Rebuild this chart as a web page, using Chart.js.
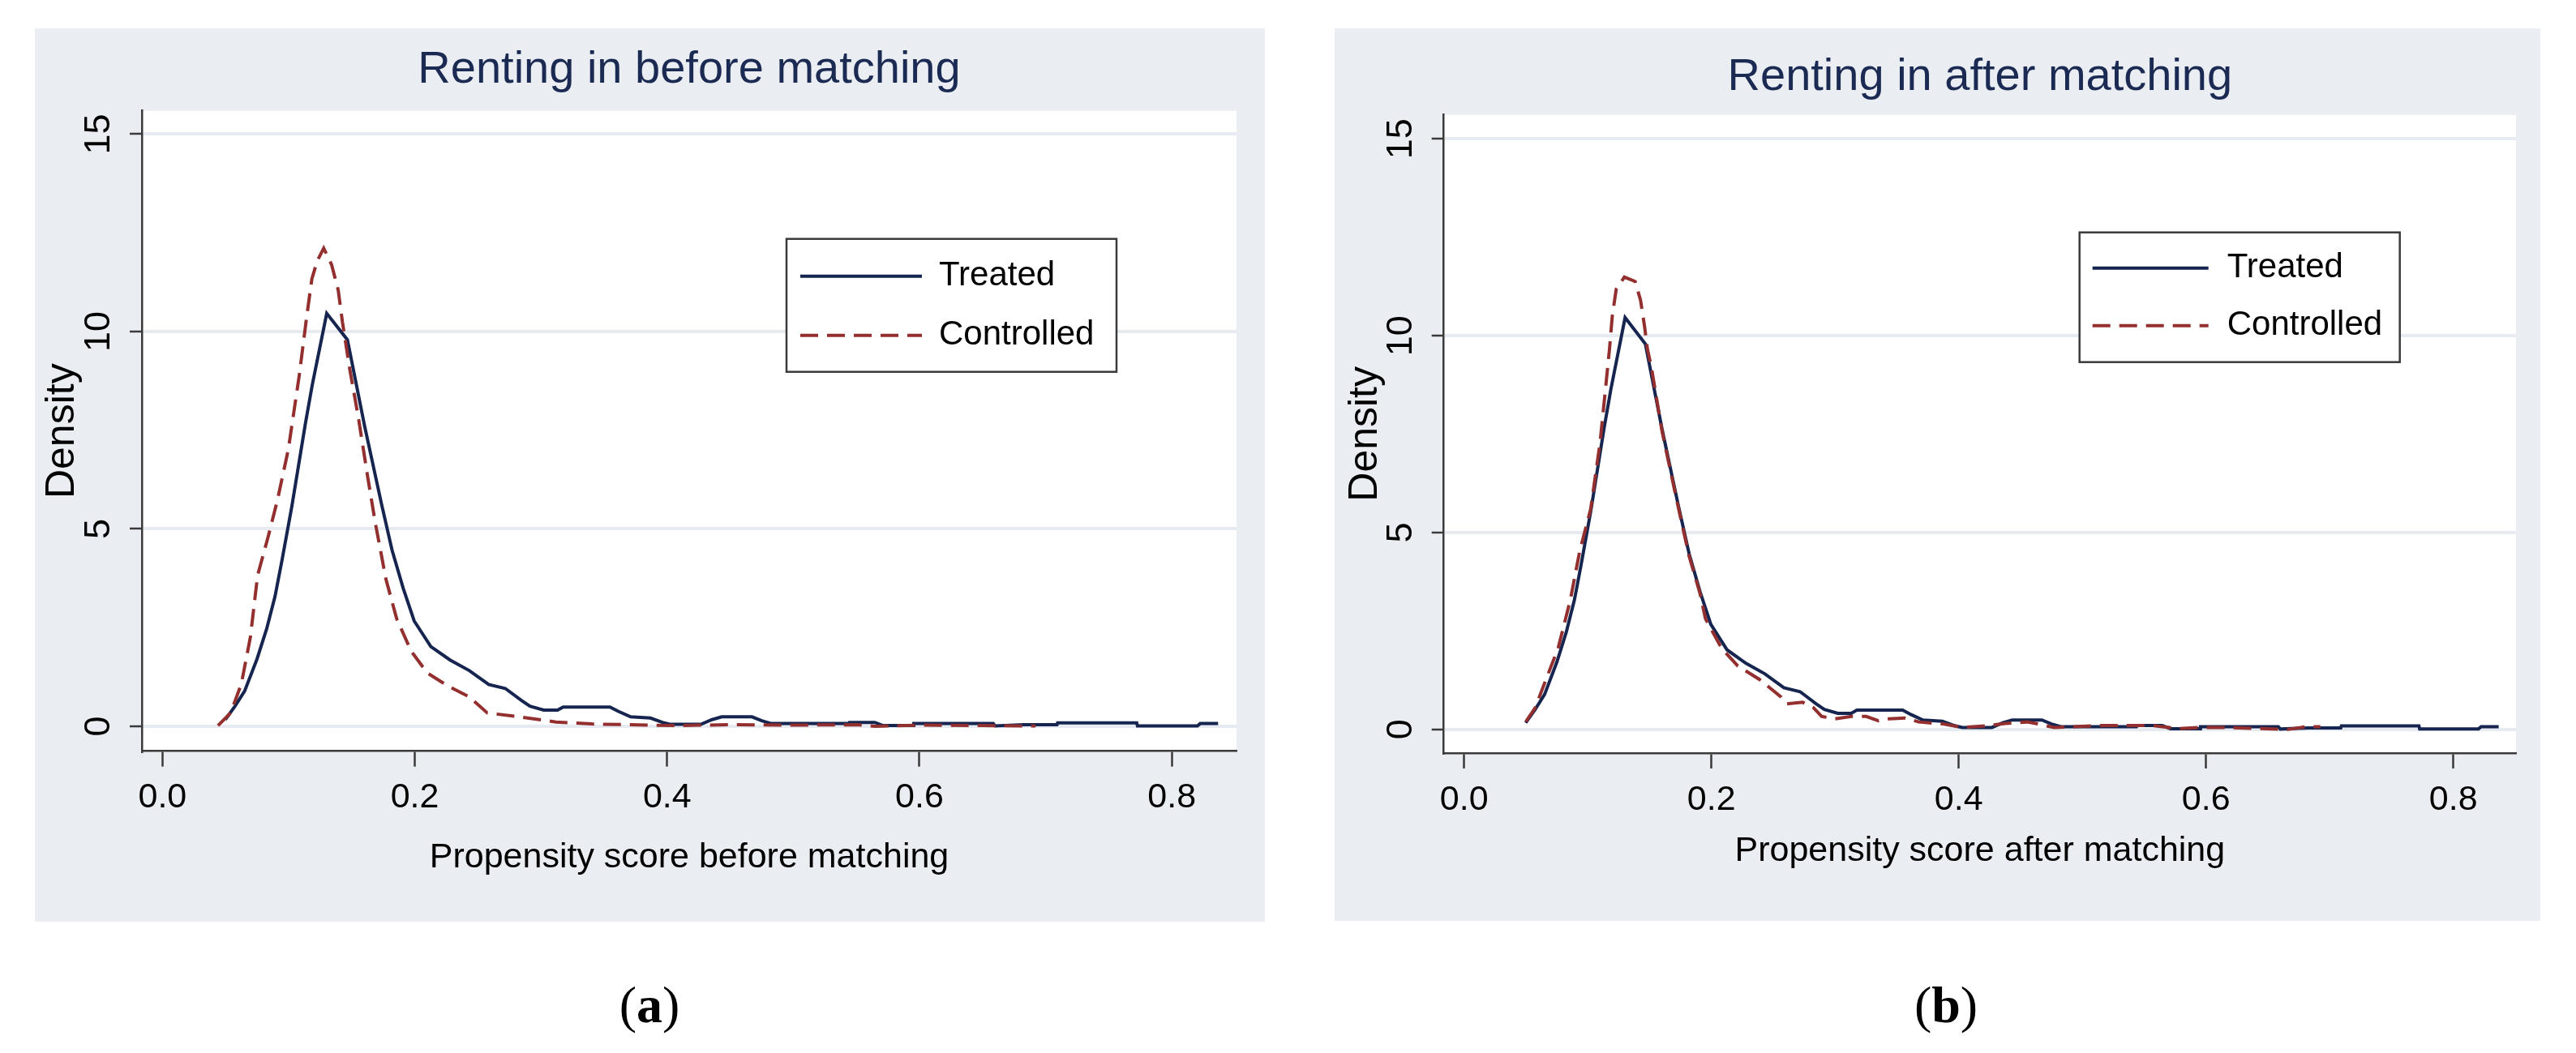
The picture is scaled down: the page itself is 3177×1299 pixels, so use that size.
<!DOCTYPE html>
<html><head><meta charset="utf-8">
<script src="https://cdn.jsdelivr.net/npm/chart.js@4.4.1/dist/chart.umd.min.js"></script>
<style>
html,body{margin:0;padding:0;background:#fff;width:3177px;height:1299px;overflow:hidden;}
canvas{position:absolute;}
#c1{left:43px;top:35px;}
#c2{left:1646px;top:35px;}
.cap{position:absolute;font-family:'Liberation Serif','Times New Roman',serif;font-size:64px;color:#000;transform:translate(-50%,-50%);white-space:nowrap;}
</style></head><body>
<canvas id="c1" width="1517" height="1102"></canvas>
<canvas id="c2" width="1487" height="1101"></canvas>
<div class="cap" style="left:801px;top:1240px">(<b>a</b>)</div>
<div class="cap" style="left:2400px;top:1240px">(<b>b</b>)</div>
<script>
// ---------------- DATA ----------------
const seriesLabels = ['Treated', 'Controlled'];
const panelTitles = ['Renting in before matching', 'Renting in after matching'];
const xAxisTitles = ['Propensity score before matching', 'Propensity score after matching'];
const yAxisTitle = 'Density';
const xTickValues = [0, 0.2, 0.4, 0.6, 0.8];
const xTickLabels = ['0.0', '0.2', '0.4', '0.6', '0.8'];
const yTickValues = [0, 5, 10, 15];
const yTickLabels = ['0', '5', '10', '15'];

// Treated group (same sample in both panels)
const treatedScore = [0.0498,0.0575,0.0651,0.075,0.0826,0.0892,0.0946,0.1025,0.1132,0.1187,0.1302,0.1466,0.1602,0.1735,0.182,0.1908,0.1995,0.2127,0.228,0.2433,0.2586,0.2717,0.2848,0.2913,0.3022,0.3131,0.3176,0.3547,0.3613,0.3711,0.3868,0.3963,0.4028,0.4268,0.4356,0.4433,0.4673,0.475,0.4826,0.5438,0.5445,0.5646,0.5711,0.5952,0.5955,0.6585,0.66,0.6826,0.709,0.7095,0.7722,0.7728,0.8203,0.8225,0.8367];
const treatedDensity = [0.17,0.51,0.89,1.71,2.47,3.29,4.18,5.56,7.65,8.64,10.46,9.79,7.61,5.65,4.46,3.50,2.67,2.02,1.68,1.41,1.06,0.96,0.65,0.51,0.41,0.41,0.49,0.49,0.38,0.24,0.21,0.10,0.05,0.05,0.17,0.24,0.24,0.14,0.07,0.07,0.10,0.10,0.02,0.02,0.07,0.07,0.01,0.04,0.04,0.09,0.09,0.01,0.01,0.07,0.07];

// Controlled group before matching
const controlledBeforeScore = [0.044,0.054,0.0625,0.0697,0.0754,0.084,0.0912,0.0998,0.1083,0.1141,0.1184,0.1227,0.1278,0.1341,0.1393,0.1427,0.1485,0.1556,0.1628,0.1685,0.1771,0.1857,0.1972,0.210,0.2259,0.243,0.2574,0.2803,0.3119,0.3405,0.37,0.4064,0.45,0.50,0.55,0.565,0.60,0.65,0.692];
const controlledBeforeDensity = [0.02,0.34,1.07,2.26,3.82,4.83,5.74,7.02,8.86,10.32,11.33,11.79,12.11,11.69,11.05,10.23,9.04,7.76,6.29,5.19,3.73,2.72,1.90,1.35,1.03,0.75,0.34,0.25,0.11,0.06,0.04,0.02,0.04,0.03,0.04,0.0,0.03,0.02,0.01];

// Controlled group after matching
const controlledAfterScore = [0.050,0.0575,0.0662,0.0760,0.0859,0.0935,0.1023,0.1099,0.1143,0.1176,0.1198,0.123,0.1296,0.1383,0.1427,0.146,0.1482,0.1515,0.1602,0.1735,0.182,0.1908,0.1952,0.2083,0.2214,0.2389,0.2564,0.2607,0.2738,0.2826,0.2892,0.3001,0.3132,0.3252,0.3351,0.3438,0.3569,0.3678,0.3875,0.4028,0.4247,0.4378,0.4553,0.4640,0.4771,0.5143,0.5558,0.5777,0.5952,0.617,0.6662,0.6815,0.6925];
const controlledAfterDensity = [0.20,0.55,1.27,2.06,3.29,4.53,5.59,7.27,8.64,9.67,10.49,11.18,11.49,11.38,10.9,10.22,9.67,9.19,7.55,5.6,4.4,3.45,2.81,2.06,1.61,1.27,0.82,0.65,0.69,0.55,0.33,0.27,0.33,0.33,0.22,0.27,0.29,0.19,0.14,0.05,0.10,0.15,0.19,0.14,0.05,0.10,0.10,0.02,0.05,0.05,0.0,0.07,0.07];

// ---------------- STYLE ----------------
const NARROW = "'Liberation Sans Narrow', 'Liberation Sans', Arial, sans-serif";
const REG = "'Liberation Sans', Arial, sans-serif";
const TREATED_COLOR = '#15254f';
const CONTROL_COLOR = '#93302f';

const toPoints = (xs, ys) => xs.map((x, i) => ({x: x, y: ys[i]}));

const panelBackground = {
  id: 'panelBackground',
  beforeDraw(chart, args, o) {
    const {ctx, chartArea: a, width, height} = chart;
    ctx.save();
    ctx.fillStyle = o.outer; ctx.fillRect(0, 0, width, height);
    ctx.fillStyle = o.inner; ctx.fillRect(a.left, a.top, a.right - a.left, a.bottom - a.top);
    ctx.restore();
  }
};

const boxedLegend = {
  id: 'boxedLegend',
  afterDatasetsDraw(chart, args, o) {
    const {ctx, chartArea: a} = chart;
    const x0 = a.left + o.left, y0 = a.top + o.top;
    ctx.save();
    ctx.fillStyle = '#ffffff';
    ctx.fillRect(x0, y0, o.width, o.height);
    ctx.lineWidth = o.borderWidth; ctx.strokeStyle = o.borderColor;
    ctx.strokeRect(x0, y0, o.width, o.height);
    chart.data.datasets.forEach((ds, i) => {
      const y = y0 + o.rows[i];
      ctx.beginPath();
      ctx.setLineDash(ds.borderDash || []);
      ctx.lineWidth = ds.borderWidth; ctx.strokeStyle = ds.borderColor;
      ctx.moveTo(x0 + o.lineStart, y); ctx.lineTo(x0 + o.lineEnd, y); ctx.stroke();
      ctx.setLineDash([]);
      ctx.fillStyle = o.color; ctx.font = o.font;
      ctx.textBaseline = 'middle'; ctx.textAlign = 'left';
      ctx.fillText(ds.label, x0 + o.textStart, y);
    });
    ctx.restore();
  }
};

function makePanel(id, p) {
  return new Chart(document.getElementById(id), {
    type: 'line',
    data: {
      datasets: [
        {label: seriesLabels[0], data: toPoints(p.tx, p.ty), borderColor: TREATED_COLOR, borderWidth: 4,
         pointRadius: 0, tension: 0, fill: false, order: 1},
        {label: seriesLabels[1], data: toPoints(p.cx, p.cy), borderColor: CONTROL_COLOR, borderWidth: 4,
         borderDash: [22, 11], pointRadius: 0, tension: 0, fill: false, order: 0}
      ]
    },
    options: {
      responsive: false, animation: false, devicePixelRatio: 1,
      layout: {padding: {left: 0, top: 0, right: p.padRight, bottom: p.padBottom}},
      plugins: {
        legend: {display: false},
        tooltip: {enabled: false},
        title: {display: true, text: p.title, fullSize: false, color: '#1b2a52',
                font: {family: NARROW, size: 56, weight: 'normal', lineHeight: 1.2},
                padding: {top: p.titleTop, bottom: p.titleBottom}},
        panelBackground: {outer: '#eaeef3', inner: '#ffffff'},
        boxedLegend: Object.assign({borderWidth: 2.5, borderColor: '#3a3a3a', color: '#000',
                      font: '42px ' + NARROW}, p.legend)
      },
      scales: {
        x: {
          type: 'linear', position: 'bottom', min: p.xmin, max: p.xmax,
          afterFit: s => { s.height = 170; },
          afterBuildTicks: s => { s.ticks = xTickValues.map(v => ({value: v})); },
          grid: {drawOnChartArea: false, drawTicks: true, tickLength: 19, tickColor: '#3a3a3a', tickWidth: 2.5},
          border: {display: true, color: '#3a3a3a', width: 2.5},
          ticks: {autoSkip: false, maxRotation: 0, color: '#000', padding: p.xTickPad,
                  font: {family: NARROW, size: 43, lineHeight: 1.2},
                  callback: (v, i) => xTickLabels[i]},
          title: {display: true, text: p.xTitle, color: '#000',
                  font: {family: NARROW, size: 43, lineHeight: 1.2}, padding: {top: 0, bottom: p.xTitlePad}}
        },
        y: {
          type: 'linear', position: 'left', min: p.ymin, max: p.ymax,
          afterFit: s => { s.width = p.yWidth; },
          afterBuildTicks: s => { s.ticks = yTickValues.map(v => ({value: v})); },
          grid: {drawOnChartArea: true, color: '#e6ebf1', lineWidth: 4, drawTicks: true, tickLength: 15,
                 tickColor: '#3a3a3a', tickWidth: 2.5},
          border: {display: true, color: '#3a3a3a', width: 2.5},
          ticks: {autoSkip: false, minRotation: 90, maxRotation: 90, crossAlign: 'center', color: '#000',
                  padding: 12, font: {family: REG, size: 45, lineHeight: 1.2},
                  callback: (v, i) => yTickLabels[i]},
          title: {display: true, text: yAxisTitle, color: '#000',
                  font: {family: REG, size: 50, lineHeight: 1.2}, padding: {top: p.yTitlePad, bottom: 0}}
        }
      }
    },
    plugins: [panelBackground, boxedLegend]
  });
}

makePanel('c1', {
  title: panelTitles[0], xTitle: xAxisTitles[0],
  tx: treatedScore, ty: treatedDensity, cx: controlledBeforeScore, cy: controlledBeforeDensity,
  xmin: -0.0163, xmax: 0.8513, ymin: -0.63, ymax: 15.59,
  padRight: 35, padBottom: 40.3, yWidth: 132, titleTop: 18.2, titleBottom: 16.3,
  xTickPad: 12.8, xTitlePad: 12.4, yTitlePad: 4,
  legend: {left: 795, top: 158, width: 407, height: 164, rows: [46, 119], lineStart: 17, lineEnd: 167, textStart: 188}
});
makePanel('c2', {
  title: panelTitles[1], xTitle: xAxisTitles[1],
  tx: treatedScore, ty: treatedDensity, cx: controlledAfterScore, cy: controlledAfterDensity,
  xmin: -0.0164, xmax: 0.8507, ymin: -0.60, ymax: 15.61,
  padRight: 30, padBottom: 37, yWidth: 134.7, titleTop: 27, titleBottom: 12.5,
  xTickPad: 13.7, xTitlePad: 22.7, yTitlePad: 8,
  legend: {left: 784, top: 145, width: 395, height: 160, rows: [44, 115], lineStart: 16, lineEnd: 159, textStart: 182}
});
</script>
</body></html>
